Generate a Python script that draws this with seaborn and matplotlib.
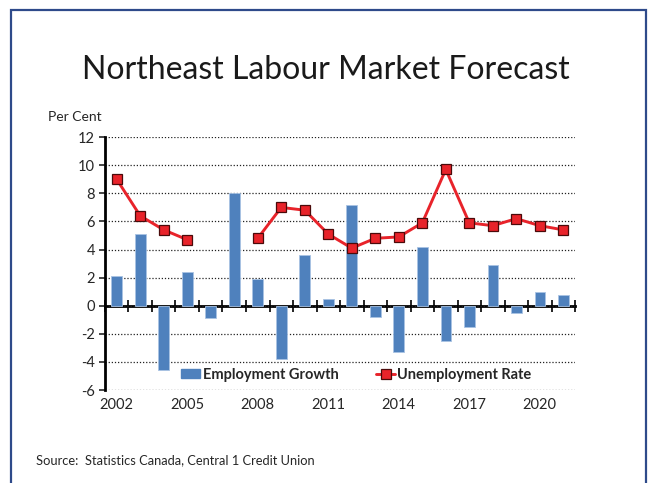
import numpy as np
import pandas as pd
import matplotlib
matplotlib.use("Agg")
import matplotlib.pyplot as plt
from matplotlib.patches import Patch, Rectangle
from matplotlib.lines import Line2D
import seaborn as sns

years = list(range(2002, 2022))
employment_growth = [2.1, 5.1, -4.6, 2.4, -0.9, 8.0, 1.9, -3.8, 3.6, 0.5,
                     7.2, -0.8, -3.3, 4.2, -2.5, -1.5, 2.9, -0.5, 1.0, 0.8]
unemployment_rate = [9.0, 6.4, 5.4, 4.7, np.nan, np.nan, 4.8, 7.0, 6.8, 5.1,
                     4.1, 4.8, 4.9, 5.9, 9.7, 5.9, 5.7, 6.2, 5.7, 5.4]
yticks = [-6, -4, -2, 0, 2, 4, 6, 8, 10, 12]
xtick_years = [2002, 2005, 2008, 2011, 2014, 2017, 2020]

sns.set_theme(style="white")
plt.rcParams['font.family'] = ['Lato', 'DejaVu Sans']

bar_color = "#4F81BD"
line_color = "#E8232A"
text_color = "#262626"

fig = plt.figure(figsize=(6.52, 4.83), dpi=100)
ax = fig.add_axes([0.161, 0.1925, 0.721, 0.5235])

df_bar = pd.DataFrame({"year": years, "growth": employment_growth})
sns.barplot(data=df_bar, x="year", y="growth", native_scale=True,
            color=bar_color, saturation=1, width=0.45, ax=ax, zorder=2,
            edgecolor="#A9C3E3", linewidth=0.6)

rate = pd.Series(unemployment_rate)
seg = rate.isna().cumsum()
df_line = pd.DataFrame({"year": years, "rate": unemployment_rate, "seg": seg}).dropna()
sns.lineplot(data=df_line, x="year", y="rate", units="seg", estimator=None,
             color=line_color, lw=2.1, marker="s", markersize=7.5,
             markerfacecolor=line_color, markeredgecolor="#4A0A0A",
             markeredgewidth=0.9, ax=ax, zorder=4)

ax.set_xlim(years[0] - 0.5, years[-1] + 0.5)
ax.set_ylim(-6, 12)
ax.set_yticks(yticks)
ax.set_yticklabels([str(v) for v in yticks], fontsize=10.5, color=text_color)
ax.set_xticks(xtick_years)
ax.set_xticklabels([str(v) for v in xtick_years], fontsize=10.5, color=text_color)
ax.tick_params(axis="x", length=0, pad=6)
ax.tick_params(axis="y", length=4, width=1.2, direction="out", left=True, pad=3)
ax.set_xlabel("")
ax.set_ylabel("")
ax.grid(axis="y", linestyle=(0, (1, 1.5)), color="#222222", lw=0.9, zorder=0)
ax.grid(axis="x", visible=False)
for s in ["top", "right", "bottom"]:
    ax.spines[s].set_visible(False)
ax.spines["left"].set_color("black")
ax.spines["left"].set_linewidth(2)
ax.spines["left"].set_zorder(5)

sec = ax.secondary_xaxis(6 / 18)
sec.set_xticks([y - 0.5 for y in years] + [years[-1] + 0.5])
sec.set_xticklabels([])
sec.tick_params(axis="x", direction="inout", length=8, width=1.2, color="black")
sec.spines["bottom"].set_linewidth(2)
sec.spines["bottom"].set_color("black")

handles = [Patch(facecolor=bar_color, edgecolor=bar_color),
           Line2D([0], [0], color=line_color, lw=2.1, marker="s", markersize=7.5,
                  markerfacecolor=line_color, markeredgecolor="#4A0A0A", markeredgewidth=0.9)]
leg = ax.legend(handles, ["Employment Growth", "Unemployment Rate"], ncol=2,
                loc="center", bbox_to_anchor=(0.535, 0.06), frameon=False,
                prop={"weight": "bold", "size": 10.5}, handlelength=1.3,
                handletextpad=0.15, columnspacing=2.6, handleheight=0.6)
for t in leg.get_texts():
    t.set_color(text_color)
leg.set_zorder(6)

fig.text(0.5, 0.855, "Northeast Labour Market Forecast", ha="center", va="center",
         fontsize=23, color="#1a1a1a")
fig.text(0.074, 0.758, "Per Cent", ha="left", va="center", fontsize=10, color=text_color)
fig.text(0.055, 0.047, "Source:  Statistics Canada, Central 1 Credit Union",
         ha="left", va="center", fontsize=9.3, color=text_color)

fig.patches.append(Rectangle((11 / 652, -0.05), 635 / 652, 1 - 10 / 483 + 0.05,
                             transform=fig.transFigure, fill=False,
                             edgecolor="#2E4A8A", lw=1.6))

fig.savefig("out.png", dpi=100)
